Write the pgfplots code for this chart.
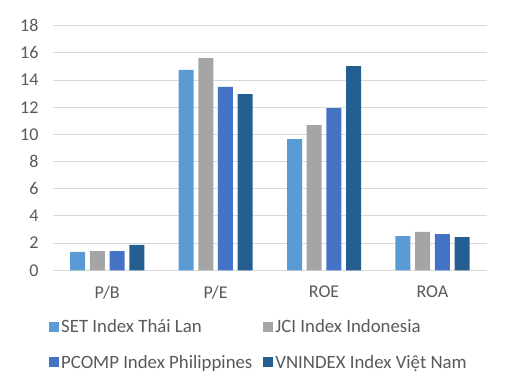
\documentclass[border=0pt]{standalone}
\usepackage{fontspec}
\setmainfont{Carlito}
\usepackage{pgfplots}
\pgfplotsset{compat=1.18}
\definecolor{cSET}{HTML}{5B9BD5}
\definecolor{cJCI}{HTML}{A5A5A5}
\definecolor{cPC}{HTML}{4472C4}
\definecolor{cVN}{HTML}{255E91}
\definecolor{txt}{HTML}{595959}
\definecolor{grd}{HTML}{D9D9D9}
\newcommand{\cf}{\fontsize{18bp}{21bp}\selectfont}
\newcommand{\lf}{\fontsize{18.8bp}{21bp}\selectfont}
\begin{document}
\begin{tikzpicture}[x=1bp,y=1bp]
\begin{axis}[
  at={(53bp,118.7bp)}, anchor=south west,
  scale only axis, width=433.7bp, height=244.6bp,
  ymin=0, ymax=18, ytick={0,2,...,18},
  xmin=-0.5, xmax=3.5, xtick=data,
  xticklabels={P/B,P/E,ROE,ROA},
  ybar=4.7bp, bar width=15bp,
  axis line style={draw=none},
  major tick length=0pt,
  ymajorgrids, grid style={grd, line width=1bp},
  /pgf/number format/assume math mode=true,
  tick label style={text=txt, font=\cf},
  yticklabel style={xshift=-11bp},
  xticklabel style={yshift=-12bp},
  legend columns=2,
  legend cell align=left,
  legend image code/.code={\fill[#1] (0bp,-5bp) rectangle (10bp,5bp);},
  legend style={draw=none, fill=none, at={(0,0)}, anchor=north west,
    xshift=-4bp, yshift=-47bp, text=txt, font=\lf, row sep=17bp,
    /tikz/every even column/.append style={column sep=9bp},
    inner sep=0pt, nodes={inner sep=2bp}},
]
\addplot[fill=cSET, draw=none] coordinates {(0,1.35) (1,14.74) (2,9.66) (3,2.52)};
\addplot[fill=cJCI, draw=none] coordinates {(0,1.42) (1,15.62) (2,10.69) (3,2.82)};
\addplot[fill=cPC, draw=none] coordinates {(0,1.42) (1,13.49) (2,11.94) (3,2.67)};
\addplot[fill=cVN, draw=none] coordinates {(0,1.88) (1,12.97) (2,15.03) (3,2.45)};
\legend{SET Index Thái Lan, JCI Index Indonesia, PCOMP Index Philippines, VNINDEX Index Việt Nam}
\end{axis}
\pgfresetboundingbox
\path (0,0) rectangle (511,389);
\end{tikzpicture}
\end{document}
